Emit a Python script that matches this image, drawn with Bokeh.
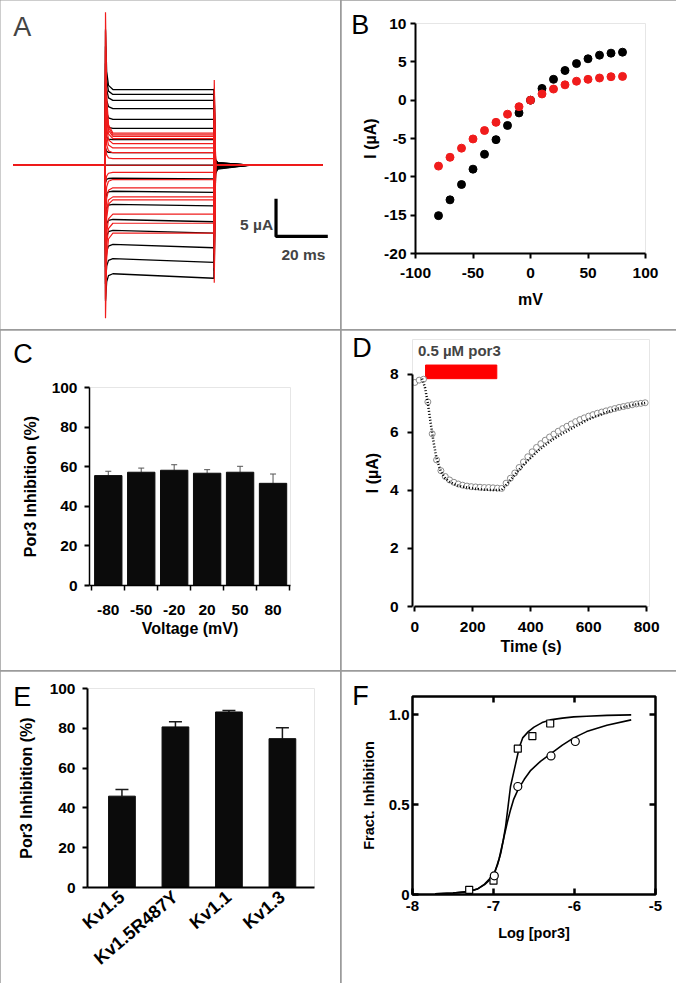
import math
from bokeh.plotting import figure
from bokeh.models import (Range1d, Label, FixedTicker, Whisker, TeeHead,
                          ColumnDataSource, GridBox, Column)
from bokeh.core.properties import value
from bokeh.embed import file_html
from bokeh.resources import INLINE

FONT = "Liberation Sans"
RED = "#f01c1c"

# ---------------- data ----------------
A_VOLT = [-80, -70, -60, -50, -40, -30, -20, -10, 0, 10, 20, 30, 40, 50, 60, 70, 80]
A_CTRL = [-15.0, -12.9, -10.95, -9.0, -7.5, -5.4, -3.6, -1.8, 0.0,
          1.66, 3.4, 4.9, 6.09, 7.52, 8.6, 9.39, 10.04]
A_POR3 = [-9.0, -7.7, -6.5, -4.6, -4.2, -3.0, -1.9, -0.95, 0.0,
          0.87, 1.66, 2.3, 2.87, 3.52, 3.83, 4.04, 4.26]
A_T_START, A_T_OFF, A_T_END = -35.5, 42.0, 84.0
A_ON_PEAK_CTRL, A_ON_PEAK_POR3 = 18.0, 20.3
A_OFF_PEAK_POS, A_OFF_PEAK_NEG = 11.3, 15.6
A_SCALE_T, A_SCALE_I = 20.0, 5.0
A_SCALE_ORIGIN = (66.0, -9.45)

B_MV = [-80, -70, -60, -50, -40, -30, -20, -10, 0, 10, 20, 30, 40, 50, 60, 70, 80]
B_CTRL = [-15.06, -13.0, -11.0, -9.0, -7.06, -5.15, -3.3, -1.66, 0.0,
          1.53, 2.72, 3.87, 4.77, 5.4, 5.87, 6.13, 6.26]
B_POR3 = [-8.6, -7.45, -6.26, -5.06, -3.96, -2.89, -1.83, -0.85, 0.0,
          0.81, 1.45, 2.0, 2.47, 2.72, 2.89, 3.06, 3.1]
B_XTICKS = [-100, -50, 0, 50, 100]
B_YTICKS = [-20, -15, -10, -5, 0, 5, 10]

C_CATS = ["-80", "-50", "-20", "20", "50", "80"]
C_MEAN = [55.5, 57.2, 58.2, 56.7, 57.2, 51.6]
C_ERR = [2.2, 2.1, 2.8, 1.8, 3.0, 4.7]
PCT_TICKS = [0, 20, 40, 60, 80, 100]

D_T = [0, 15, 30, 45, 60, 75, 90, 105, 120, 135, 150, 165, 180, 195, 210, 225, 240,
       255, 270, 285, 300, 315, 330, 345, 360, 375, 390, 405, 420, 435, 450, 465, 480,
       495, 510, 525, 540, 555, 570, 585, 600, 615, 630, 645, 660, 675, 690, 705, 720,
       735, 750, 765, 780, 795]
D_I = [7.72, 7.80, 7.83, 7.05, 5.95, 5.05, 4.68, 4.48, 4.36, 4.28, 4.22, 4.18, 4.15,
       4.13, 4.12, 4.11, 4.10, 4.10, 4.09, 4.08, 4.07, 4.25, 4.42, 4.60, 4.79, 4.98,
       5.16, 5.33, 5.48, 5.61, 5.73, 5.84, 5.94, 6.04, 6.13, 6.21, 6.29, 6.37, 6.44,
       6.50, 6.56, 6.61, 6.66, 6.70, 6.74, 6.78, 6.82, 6.86, 6.89, 6.92, 6.95, 6.98,
       7.00, 7.02]
D_FIT_T = [25, 35, 45, 55, 65, 75, 90, 105, 120, 140, 160, 180, 200, 225, 250, 275, 300,
           325, 350, 375, 400, 425, 450, 475, 500, 550, 600, 650, 700, 750, 800]
D_FIT_I = [7.85, 7.55, 7.0, 6.3, 5.65, 5.1, 4.65, 4.42, 4.30, 4.20, 4.14, 4.10, 4.07,
           4.04, 4.02, 4.01, 4.02, 4.30, 4.60, 4.88, 5.12, 5.36, 5.56, 5.75, 5.90, 6.18,
           6.45, 6.65, 6.82, 6.94, 7.02]
D_POR3_ON, D_POR3_OFF = 37, 283
D_BAR_BOTTOM, D_BAR_TOP = 7.85, 8.32
D_XTICKS = [0, 200, 400, 600, 800]
D_YTICKS = [0, 2, 4, 6, 8]

E_CATS = ["Kv1.5", "Kv1.5R487Y", "Kv1.1", "Kv1.3"]
E_MEAN = [45.9, 80.7, 88.2, 74.8]
E_ERR = [3.3, 2.6, 0.8, 5.5]

F_SQ_X = [-7.3, -7.0, -6.7, -6.52, -6.3]
F_SQ_Y = [0.026, 0.077, 0.81, 0.88, 0.95]
F_CI_X = [-6.99, -6.7, -6.29, -5.99]
F_CI_Y = [0.104, 0.60, 0.77, 0.85]
F_SQ_FIT_X = [-7.72, -7.5, -7.31, -7.2, -7.11, -7.0, -6.95, -6.91, -6.88, -6.85, -6.82,
              -6.79, -6.75, -6.72, -6.68, -6.64, -6.57, -6.5, -6.4, -6.3, -6.15, -6.01,
              -5.85, -5.6, -5.3]
F_SQ_FIT_Y = [0.004, 0.008, 0.016, 0.03, 0.058, 0.11, 0.165, 0.23, 0.30, 0.38, 0.49,
              0.60, 0.68, 0.74, 0.82, 0.87, 0.905, 0.93, 0.955, 0.97, 0.98, 0.987,
              0.99, 0.995, 0.998]
F_CI_FIT_X = [-7.72, -7.5, -7.31, -7.2, -7.11, -7.0, -6.93, -6.87, -6.83, -6.79, -6.75,
              -6.70, -6.62, -6.54, -6.42, -6.30, -6.15, -6.01, -5.85, -5.6, -5.3]
F_CI_FIT_Y = [0.004, 0.008, 0.016, 0.03, 0.055, 0.10, 0.20, 0.32, 0.40, 0.47, 0.53,
              0.58, 0.64, 0.69, 0.74, 0.78, 0.83, 0.87, 0.905, 0.94, 0.97]
F_XTICKS = [-8, -7, -6, -5]
F_YTICKS = [0, 0.5, 1.0]
F_YLABELS = ["0", "0.5", "1.0"]

PANEL_LETTERS = ["A", "B", "C", "D", "E", "F"]


# ---------------- helpers ----------------
def make_fig(w, h, geom, xr, yr, **kw):
    left, top, fw, fh = geom
    p = figure(width=w, height=h, x_range=Range1d(*xr), y_range=Range1d(*yr),
               output_backend="svg", toolbar_location=None,
               min_border_left=left, min_border_top=top,
               min_border_right=w - left - fw, min_border_bottom=h - top - fh, **kw)
    p.grid.visible = False
    p.outline_line_color = None
    p.background_fill_color = "white"
    p.border_fill_color = "white"
    return p


def to_data(xr, yr, geom, px, py):
    left, top, fw, fh = geom
    x = xr[0] + (px - left) / fw * (xr[1] - xr[0])
    y = yr[1] - (py - top) / fh * (yr[1] - yr[0])
    return x, y


def letter_fig(text, px, pymid, w=52, h=52):
    """Small transparent figure, overlaid in the panel's grid cell, holding the letter."""
    f = figure(width=w, height=h, x_range=Range1d(0, w), y_range=Range1d(h, 0),
               output_backend="svg", toolbar_location=None,
               x_axis_type=None, y_axis_type=None,
               min_border_left=0, min_border_right=0, min_border_top=0,
               min_border_bottom=0)
    f.grid.visible = False
    f.outline_line_color = None
    f.background_fill_alpha = 0
    f.border_fill_alpha = 0
    f.text(x=[px], y=[pymid], text=[text], text_font=value(FONT),
           text_font_size=value("27px"), text_baseline="middle", text_align="left",
           text_color="black")
    return f


def style_axis(ax, tick="15.5px", lab="16px", lw=2, tick_out=5, tick_in=0):
    ax.axis_line_width = lw
    ax.axis_line_color = "black"
    ax.major_tick_line_width = lw
    ax.major_tick_line_color = "black"
    ax.major_tick_out = tick_out
    ax.major_tick_in = tick_in
    ax.minor_tick_line_color = None
    ax.major_label_text_font = FONT
    ax.major_label_text_font_style = "bold"
    ax.major_label_text_font_size = tick
    ax.major_label_text_color = "black"
    ax.axis_label_text_font = FONT
    ax.axis_label_text_font_style = "bold"
    ax.axis_label_text_font_size = lab
    ax.axis_label_text_color = "black"


def hyphen_labels(ticks, labels=None):
    if labels is None:
        labels = [str(t) for t in ticks]
    return {t: s for t, s in zip(ticks, labels)}


# ---------------- Panel A ----------------
gA = (0, 0, 340, 329)
xA, yA = (-40.4, 90.9), (-21.8, 21.86)
pA = make_fig(340, 329, gA, xA, yA, x_axis_type=None, y_axis_type=None)


def trace(level, v, on_scale, off_scale, tail_frac, sag):
    on_peak = v / 80.0 * on_scale
    off_peak = -v / 80.0 * (A_OFF_PEAK_NEG if v > 0 else A_OFF_PEAK_POS) * off_scale
    start = level * sag
    tail = level * tail_frac
    t = [A_T_START, 0.0, 0.15, 0.6, 1.3, 3.0, A_T_OFF, A_T_OFF + 0.15, A_T_OFF + 0.7,
         A_T_OFF + 1.5, A_T_OFF + 14.0, A_T_END]
    i = [0.0, 0.0, on_peak, start + (on_peak - start) * 0.3,
         start + (on_peak - start) * 0.07, start, level, off_peak, tail * 2.0, tail,
         0.0, 0.0]
    return t, i


bx, by, rx, ry = [], [], [], []
for v, lc, lr in zip(A_VOLT, A_CTRL, A_POR3):
    t, i = trace(lc, v, A_ON_PEAK_CTRL, 0.9, 0.035, 0.96 if v < 0 else 1.0)
    bx.append(t); by.append(i)
    t, i = trace(lr, v, A_ON_PEAK_POR3, 1.0, 0.0, 1.0)
    rx.append(t); ry.append(i)
pA.multi_line(bx, by, line_color="black", line_width=1.3)
pA.multi_line(rx, ry, line_color=RED, line_width=1.2)

t0, i0 = A_SCALE_ORIGIN
pA.line([t0, t0, t0 + A_SCALE_T], [i0 + A_SCALE_I, i0, i0], line_color="black",
        line_width=3.2)
pA.add_layout(Label(x=t0 - 1.1, y=i0 + 1.6, text="5 µA", text_font=FONT,
                    text_font_style="bold", text_font_size="15.5px", text_align="right",
                    text_baseline="middle"))
pA.add_layout(Label(x=t0 + A_SCALE_T / 2 + 0.6, y=i0 - 2.45, text="20 ms", text_font=FONT,
                    text_font_style="bold", text_font_size="15.5px", text_align="center",
                    text_baseline="middle"))
ax_, ay_ = to_data(xA, yA, gA, 12.7, 26.6)
pA.add_layout(Label(x=ax_, y=ay_, text=PANEL_LETTERS[0], text_font=FONT,
                    text_font_size="27px", text_baseline="middle", text_align="left"))

# ---------------- Panel B ----------------
gB = (74, 23, 230, 230)
xB, yB = (-100, 100), (-20, 10)
pB = make_fig(335, 329, gB, xB, yB)
pB.scatter(B_MV, B_CTRL, size=8, color="black")
pB.scatter(B_MV, B_POR3, size=8, color=RED)
pB.xaxis.ticker = FixedTicker(ticks=B_XTICKS)
pB.yaxis.ticker = FixedTicker(ticks=B_YTICKS)
pB.xaxis.major_label_overrides = hyphen_labels(B_XTICKS)
pB.yaxis.major_label_overrides = hyphen_labels(B_YTICKS)
pB.xaxis.axis_label = "mV"
pB.yaxis.axis_label = "I (µA)"
for ax in (pB.xaxis[0], pB.yaxis[0]):
    style_axis(ax)
pB.xaxis.major_label_standoff = 9
pB.xaxis.axis_label_standoff = 10
pB.yaxis.major_label_standoff = 4
pB.yaxis.axis_label_standoff = 2

# ---------------- Panel C ----------------
gC = (89, 57, 201, 198)
xC, yC = (0.43, 6.53), (0, 100)
pC = make_fig(340, 340, gC, xC, yC)
cx = list(range(1, len(C_CATS) + 1))
srcC = ColumnDataSource(dict(x=cx, top=C_MEAN,
                             up=[m + e for m, e in zip(C_MEAN, C_ERR)]))
pC.vbar(x="x", top="top", width=0.83, source=srcC, fill_color="#0b0b0b",
        line_color="#0b0b0b")
pC.add_layout(Whisker(base="x", lower="top", upper="up", source=srcC,
                      line_color="#555555", line_width=1,
                      upper_head=TeeHead(size=6, line_color="#555555", line_width=1),
                      lower_head=None))
pC.xaxis.ticker = FixedTicker(ticks=cx, minor_ticks=[k + 0.5 for k in range(0, len(cx) + 1)])
pC.xaxis.major_label_overrides = {k: c for k, c in zip(cx, C_CATS)}
pC.yaxis.ticker = FixedTicker(ticks=PCT_TICKS)
pC.xaxis.axis_label = "Voltage (mV)"
pC.yaxis.axis_label = "Por3 Inhibition (%)"
for ax in (pC.xaxis[0], pC.yaxis[0]):
    style_axis(ax)
pC.xaxis.major_tick_out = 0
pC.xaxis.major_tick_line_color = None
pC.xaxis.minor_tick_line_color = "black"
pC.xaxis.minor_tick_line_width = 1.5
pC.xaxis.minor_tick_out = 5
pC.xaxis.minor_tick_in = 0
pC.xaxis.axis_line_width = 1.5
pC.yaxis.axis_line_width = 1.5
pC.xaxis.major_label_standoff = 14
pC.xaxis.axis_label_standoff = 2
pC.yaxis.major_label_standoff = 7
pC.yaxis.axis_label_standoff = 10

# ---------------- Panel D ----------------
gD = (71, 9, 237, 267)
xD, yD = (-8, 810), (0, 9.2)
pD = make_fig(335, 340, gD, xD, yD)
pD.quad(left=[D_POR3_ON], right=[D_POR3_OFF], bottom=[D_BAR_BOTTOM], top=[D_BAR_TOP],
        fill_color="#ff0000", line_color="#ff0000")
pD.scatter(D_T, D_I, marker="circle", size=6, fill_color="white", line_color="#8c8c8c",
           line_width=1)
pD.line(D_FIT_T, D_FIT_I, line_color="black", line_width=2.5, line_dash="1 2")
lx, ly = to_data(xD, yD, gD, 76.4, 20.0)
pD.add_layout(Label(x=lx, y=ly, text="0.5 µM por3", text_font=FONT,
                    text_font_style="bold", text_font_size="15px", text_align="left",
                    text_baseline="middle"))
pD.xaxis.ticker = FixedTicker(ticks=D_XTICKS)
pD.yaxis.ticker = FixedTicker(ticks=D_YTICKS)
pD.xaxis.bounds = (0, 800)
pD.yaxis.bounds = (0, 8)
pD.xaxis.axis_label = "Time (s)"
pD.yaxis.axis_label = "I (µA)"
for ax in (pD.xaxis[0], pD.yaxis[0]):
    style_axis(ax)
pD.xaxis.major_label_standoff = 10
pD.xaxis.axis_label_standoff = 3
pD.yaxis.major_label_standoff = 9
pD.yaxis.axis_label_standoff = 6

# ---------------- Panel E ----------------
gE = (87, 17, 227, 199)
xE, yE = (0.356, 4.6), (0, 100)
pE = make_fig(340, 312, gE, xE, yE)
ex = list(range(1, len(E_CATS) + 1))
srcE = ColumnDataSource(dict(x=ex, top=E_MEAN,
                             up=[m + e for m, e in zip(E_MEAN, E_ERR)]))
pE.vbar(x="x", top="top", width=0.5, source=srcE, fill_color="#0b0b0b",
        line_color="#0b0b0b")
pE.add_layout(Whisker(base="x", lower="top", upper="up", source=srcE,
                      line_color="#1a1a1a", line_width=1.5,
                      upper_head=TeeHead(size=13, line_color="#1a1a1a", line_width=1.5),
                      lower_head=None))
pE.xaxis.ticker = FixedTicker(ticks=ex)
pE.xaxis.major_label_overrides = {k: c for k, c in zip(ex, E_CATS)}
pE.yaxis.ticker = FixedTicker(ticks=PCT_TICKS)
pE.yaxis.axis_label = "Por3 Inhibition (%)"
for ax in (pE.xaxis[0], pE.yaxis[0]):
    style_axis(ax)
pE.xaxis.major_tick_out = 0
pE.xaxis.major_tick_line_color = None
pE.xaxis.major_label_orientation = 0.70
pE.xaxis.major_label_text_font_size = "18px"
pE.xaxis.major_label_standoff = 7
pE.yaxis.major_label_standoff = 7
pE.yaxis.axis_label_standoff = 12

# ---------------- Panel F ----------------
gF = (71, 25, 243, 198)
xF, yF = (-8, -5), (0, 1.1)
pF = make_fig(335, 312, gF, xF, yF)
pF.outline_line_color = "black"
pF.outline_line_width = 2.5
pF.line(F_SQ_FIT_X, F_SQ_FIT_Y, line_color="black", line_width=1.6)
pF.line(F_CI_FIT_X, F_CI_FIT_Y, line_color="black", line_width=1.6)
pF.scatter(F_SQ_X, F_SQ_Y, marker="square", size=7, fill_color="white",
           line_color="black", line_width=1.2)
pF.scatter(F_CI_X, F_CI_Y, marker="circle", size=8, fill_color="white",
           line_color="black", line_width=1.2)
pF.xaxis.ticker = FixedTicker(ticks=F_XTICKS)
pF.yaxis.ticker = FixedTicker(ticks=F_YTICKS)
pF.xaxis.major_label_overrides = hyphen_labels(F_XTICKS)
pF.yaxis.major_label_overrides = hyphen_labels(F_YTICKS, F_YLABELS)
pF.xaxis.axis_label = "Log [por3]"
pF.yaxis.axis_label = "Fract. Inhibition"
for ax in (pF.xaxis[0], pF.yaxis[0]):
    style_axis(ax, tick="15px", lab="14.5px", lw=2.5, tick_out=0, tick_in=6)
    ax.axis_line_color = None
pF.xaxis.major_label_standoff = 6
pF.xaxis.axis_label_standoff = 11
pF.yaxis.major_label_standoff = 3
pF.yaxis.axis_label_standoff = 9
tick_dx = 6 / gF[2] * (xF[1] - xF[0])
tick_dy = 6 / gF[3] * (yF[1] - yF[0])
inner_x = F_XTICKS[1:-1]
inner_y = F_YTICKS[1:]
pF.segment(x0=inner_x, y0=[yF[1]] * len(inner_x), x1=inner_x,
           y1=[yF[1] - tick_dy] * len(inner_x), line_color="black", line_width=2.5)
pF.segment(x0=[xF[1]] * len(inner_y), y0=inner_y, x1=[xF[1] - tick_dx] * len(inner_y),
           y1=inner_y, line_color="black", line_width=2.5)

# ---------------- panel letters (overlaid in the same grid cells) ----------------
lB = letter_fig(PANEL_LETTERS[1], 9.8, 24.6)
lC = letter_fig(PANEL_LETTERS[2], 12.7, 23.6)
lD = letter_fig(PANEL_LETTERS[3], 10.8, 17.5)
lE = letter_fig(PANEL_LETTERS[4], 12.7, 25.6)
lF = letter_fig(PANEL_LETTERS[5], 10.8, 24.2)

cells = [(pA, 0, 0), (pB, 0, 1), (pC, 1, 0), (pD, 1, 1), (pE, 2, 0), (pF, 2, 1),
         (lB, 0, 1), (lC, 1, 0), (lD, 1, 1), (lE, 2, 0), (lF, 2, 1)]
grid = GridBox(children=[(Column(children=[m]), r, c) for m, r, c in cells],
               spacing=1, styles={"background-color": "#9b9b9b"})

open("out.html", "w").write(file_html(grid, INLINE))
